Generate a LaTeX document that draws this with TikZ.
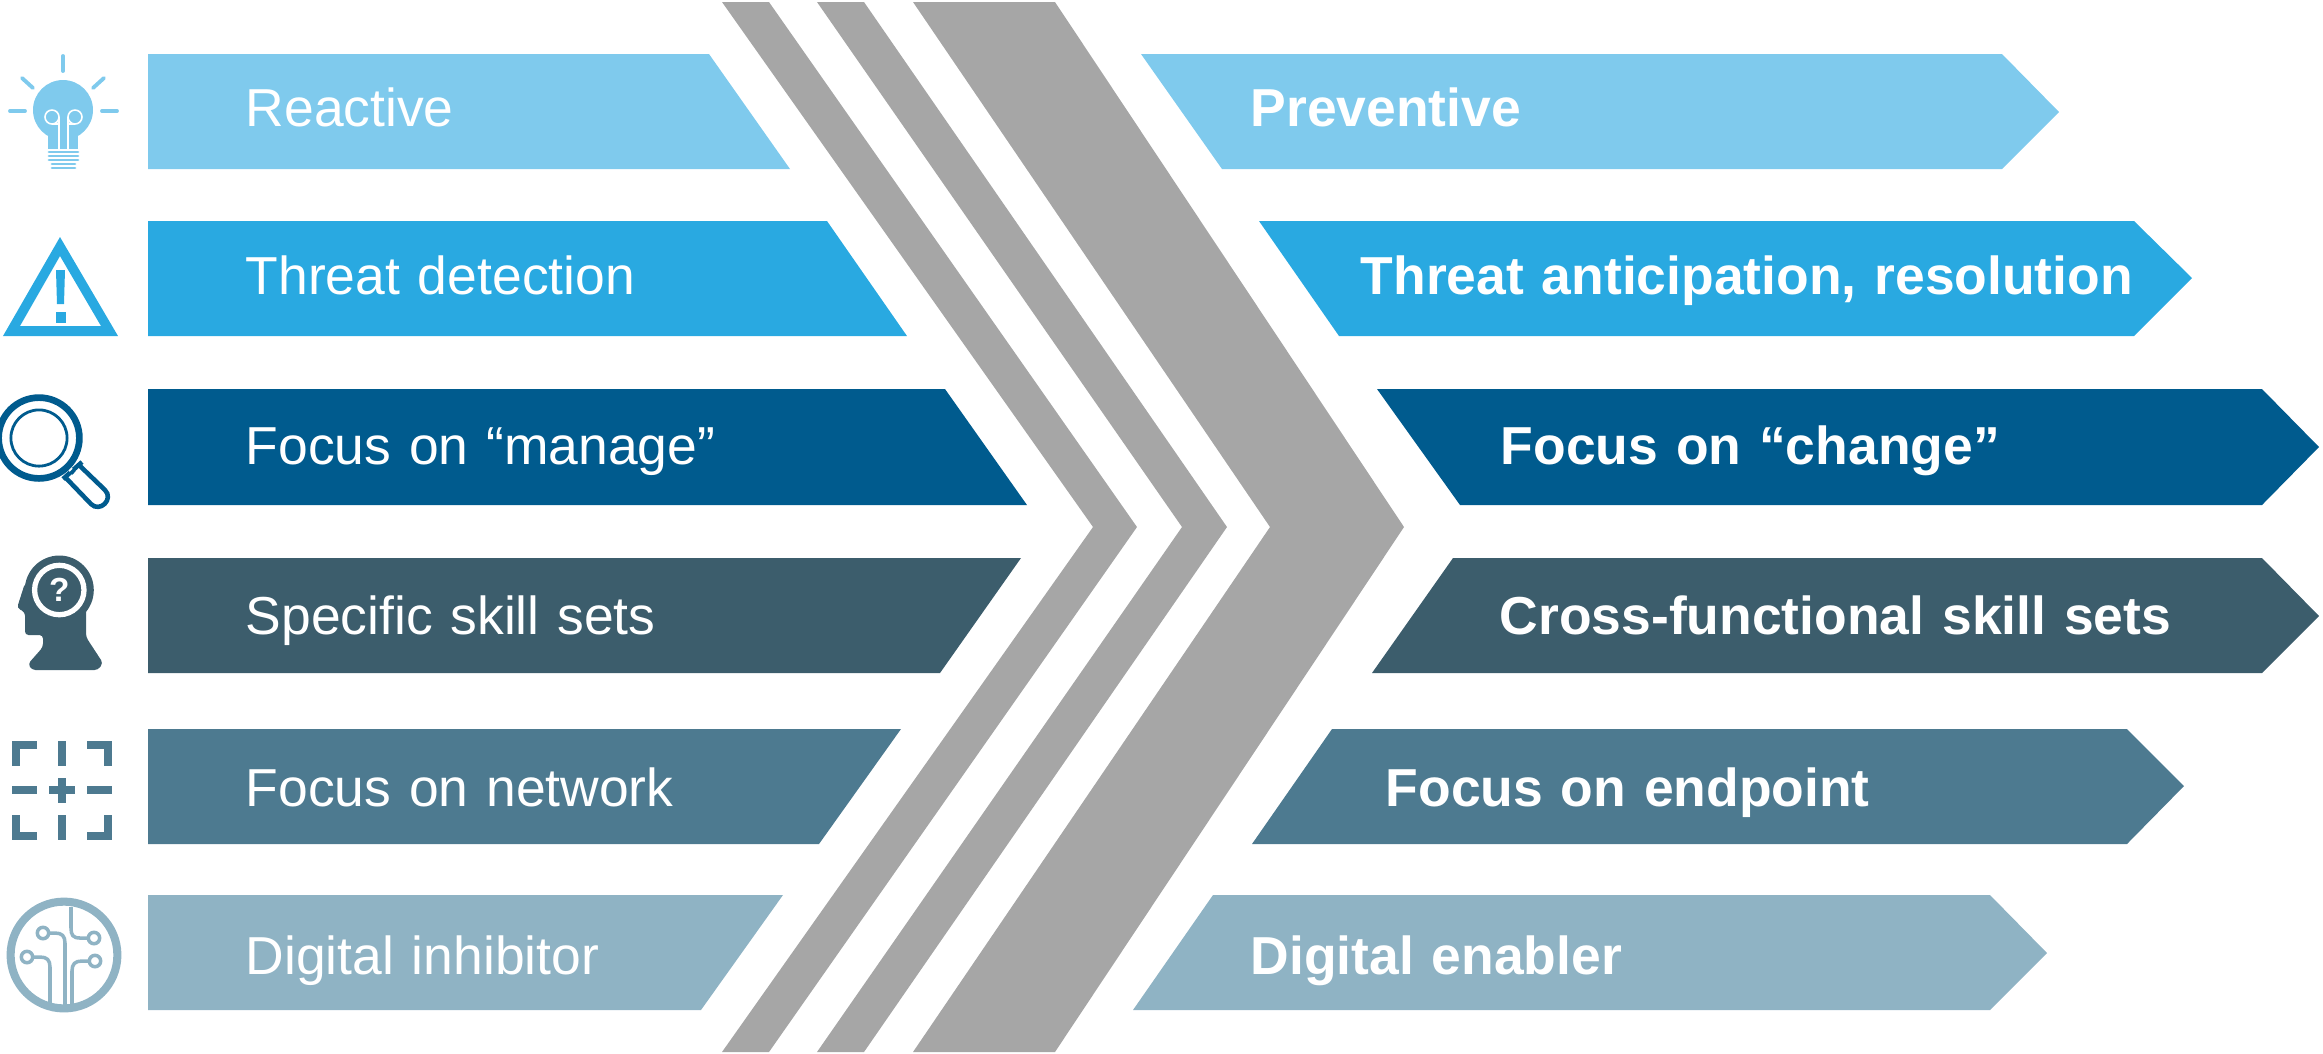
\documentclass[tikz,border=0pt]{standalone}
\usepackage{fontspec}
\setmainfont{Liberation Sans}
\usetikzlibrary{positioning}
\definecolor{rowa}{HTML}{7FCAED}
\definecolor{rowb}{HTML}{29A9E1}
\definecolor{rowc}{HTML}{005B8E}
\definecolor{rowd}{HTML}{3C5D6C}
\definecolor{rowe}{HTML}{4D7A90}
\definecolor{rowf}{HTML}{8FB3C4}
\definecolor{chevron}{HTML}{A6A6A6}
\tikzset{
	leftlabel/.style={text=white, font=\fontsize{15.2}{18}\selectfont, inner sep=0pt, text width=7cm, align=left, text height=.42cm, text depth=.18cm},
	rightlabel/.style={text=white, font=\fontsize{15.2}{18}\selectfont\bfseries, inner sep=0pt, text width=10cm, align=left, text height=.42cm, text depth=.18cm},
	ray/.style={draw=rowa, line width=1.1pt, line cap=round},
	bulbthread/.style={draw=rowa, line width=.8pt, line cap=round},
	filament/.style={draw=white, line width=.45pt},
	scanline/.style={draw=rowe, line width=2.36pt},
	trace/.style={draw=rowf, line width=1pt},
	pad/.style={draw=rowf, line width=1pt, fill=white},
}

\begin{document}
\begin{tikzpicture}[x=.01cm, y=-.01cm]
	\useasboundingbox (0,0) rectangle (2323,1053);

	\fill [chevron] (722,2) -- (769,2) -- (1137,527) -- (769,1052) -- (722,1052) -- (1093,527) -- cycle;
	\fill [chevron] (817,2) -- (864,2) -- (1227,527) -- (864,1052) -- (817,1052) -- (1182,527) -- cycle;
	\fill [chevron] (913,2) -- (1055,2) -- (1404,527) -- (1055,1052) -- (913,1052) -- (1270,527) -- cycle;

	\fill [rowa] (148,54) -- (709,54) -- (790,169) -- (148,169) -- cycle;
	\fill [rowb] (148,221) -- (827,221) -- (907,336) -- (148,336) -- cycle;
	\fill [rowc] (148,389) -- (945,389) -- (1027,505) -- (148,505) -- cycle;
	\fill [rowd] (148,558) -- (1021,558) -- (940,673) -- (148,673) -- cycle;
	\fill [rowe] (148,729) -- (901,729) -- (819,844) -- (148,844) -- cycle;
	\fill [rowf] (148,895) -- (783,895) -- (701,1010) -- (148,1010) -- cycle;

	\fill [rowa] (1141,54) -- (2002,54) -- (2059,112) -- (2002,169) -- (1222,169) -- cycle;
	\fill [rowb] (1259,221) -- (2134,221) -- (2192,278) -- (2134,336) -- (1339,336) -- cycle;
	\fill [rowc] (1377,389) -- (2262,389) -- (2319,447) -- (2262,505) -- (1460,505) -- cycle;
	\fill [rowd] (1453,558) -- (2262,558) -- (2319,616) -- (2262,673) -- (1372,673) -- cycle;
	\fill [rowe] (1332,729) -- (2127,729) -- (2184,786) -- (2127,844) -- (1252,844) -- cycle;
	\fill [rowf] (1213,895) -- (1990,895) -- (2047,953) -- (1990,1010) -- (1133,1010) -- cycle;

	\node [leftlabel, anchor=west] (l1) at (245,114) {Reactive};
	\node [leftlabel, below=1.07cm of l1] (l2) {Threat detection};
	\node [leftlabel, below=1.08cm of l2] (l3) {Focus on “manage”};
	\node [leftlabel, below=1.09cm of l3] (l4) {Specific skill sets};
	\node [leftlabel, below=1.1cm of l4] (l5) {Focus on network};
	\node [leftlabel, below=1.07cm of l5] (l6) {Digital inhibitor};

	\node [rightlabel, right=3.03cm of l1] (r1) {Preventive};
	\node [rightlabel, right=4.13cm of l2] (r2) {Threat anticipation, resolution};
	\node [rightlabel, right=5.53cm of l3] (r3) {Focus on “change”};
	\node [rightlabel, right=5.52cm of l4] (r4) {Cross-functional skill sets};
	\node [rightlabel, right=4.38cm of l5] (r5) {Focus on endpoint};
	\node [rightlabel, right=3.03cm of l6] (r6) {Digital enabler};

	% bulb
	\draw [ray] (63,56) -- (63,71);
	\draw [ray] (10,111) -- (25,111);
	\draw [ray] (102,111) -- (117,111);
	\draw [ray] (22,78) -- (33,88);
	\draw [ray] (104,78) -- (93,88);
	\fill [rowa] (63,110) circle (30);
	\fill [rowa] (48,125) rectangle (78,149);
	\draw [filament] (59,149) -- (59,117) arc (0:360:7) (59,124) -- (52,124);
	\draw [filament] (68,149) -- (68,117) arc (180:-180:7) (68,124) -- (75,124);
	\foreach \y in {152,156,160} {
		\draw [bulbthread] (49,\y) -- (78,\y);
	}
	\foreach \y in {164,168} {
		\draw [bulbthread] (52,\y) -- (75,\y);
	}

	% warning sign
	\fill [rowb, even odd rule] (60,237) -- (118,336) -- (3,336) -- cycle (60,256) -- (20,326) -- (101,326) -- cycle;
	\fill [rowb] (56,270) -- (65,270) -- (64,304) -- (57,304) -- cycle;
	\fill [rowb] (56,312) rectangle (66,323);

	% magnifier
	\draw [rowc, line width=1.9pt] (39,438) circle (40.4);
	\draw [rowc, line width=.8pt] (39,438) circle (28.1);
	\draw [rowc, line width=1.3pt] (63,479) -- (82,462);
	\draw [rowc, line width=1.3pt] (79,465) -- (105,490) .. controls (114,499) and (100,513) .. (91,504) -- (66,478);
	\draw [rowc, line width=1.3pt] (66,466) -- (74,473);
	\draw [white, line width=.5pt] (69,471) -- (72,468);

	% head
	\fill [rowd] (59.3,590) circle (34.5);
	\fill [rowd, rounded corners=1pt] (25,583) -- (17,608) -- (25,612) -- (25,635) -- (43,635) -- (43,647) -- (28,664) -- (32,670) -- (98,670) -- (103,663) -- (86,637) -- (86,595) -- cycle;
	\draw [white, line width=1.5pt] (59.3,590) circle (24.7);
	\node [text=white, font=\fontsize{9.5}{10}\selectfont\bfseries, inner sep=0pt] (question) at (59.3,590) {?};

	% scan frame
	\draw [scanline] (37,745) -- (16,745) -- (16,766);
	\draw [scanline] (87,745) -- (108,745) -- (108,766);
	\draw [scanline] (37,836) -- (16,836) -- (16,815);
	\draw [scanline] (87,836) -- (108,836) -- (108,815);
	\draw [scanline] (62,741) -- (62,766);
	\draw [scanline] (62,815) -- (62,840);
	\draw [scanline] (12,790) -- (37,790);
	\draw [scanline] (87,790) -- (112,790);
	\draw [scanline] (49,790) -- (75,790);
	\draw [scanline] (62,778) -- (62,803);

	% circuit
	\draw [rowf, line width=2.3pt] (64,955) circle (53.4);
	\draw [trace] (71,907) -- (71,928) .. controls (71,935) and (73,938) .. (80,938) -- (94,938);
	\draw [trace] (43,933) -- (55,933) .. controls (62,933) and (65,936) .. (65,943) -- (65,1005);
	\draw [trace] (27,957) -- (40,957) .. controls (47,957) and (50,960) .. (50,967) -- (50,1003);
	\draw [trace] (95,961) -- (82,961) .. controls (75,961) and (72,964) .. (72,971) -- (72,1005);
	\draw [pad] (94,938) circle (5.7);
	\draw [pad] (43,933) circle (5.7);
	\draw [pad] (27,957) circle (5.7);
	\draw [pad] (95,961) circle (5.7);
\end{tikzpicture}
\end{document}
